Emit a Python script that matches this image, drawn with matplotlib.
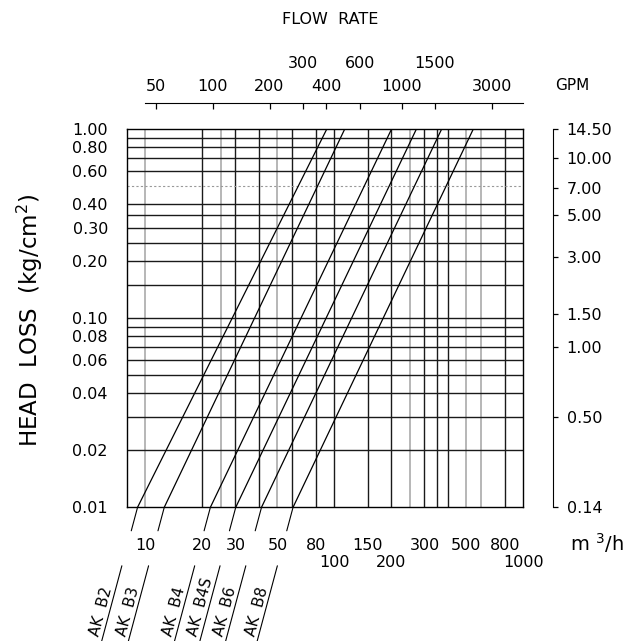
import numpy as np
import matplotlib.pyplot as plt
from matplotlib.ticker import FixedLocator, FixedFormatter, NullLocator, FuncFormatter
from matplotlib.transforms import offset_copy

# head loss lines of the filters, flow (m3/h) read at 0.01 and at 1.00 kg/cm2
models = ['AK  B2', 'AK  B3', 'AK  B4', 'AK  B4S', 'AK  B6', 'AK  B8']
head_ends = [0.01, 1.0]
flow_low = [9.1, 12.6, 22.1, 30.1, 41.2, 60.5]
flow_high = [91.3, 113.6, 201, 272, 370, 544]

# axis ticks
flow_ticks = [10, 20, 30, 50, 80, 150, 300, 500, 800]
flow_ticks_2nd = [100, 200, 1000]
gpm_ticks = [50, 100, 200, 400, 1000, 3000]
gpm_ticks_2nd = [300, 600, 1500]
head_ticks = [1.0, 0.8, 0.6, 0.4, 0.3, 0.2, 0.1, 0.08, 0.06, 0.04, 0.02, 0.01]
psi_pos = [1.0, 0.70, 0.485, 0.35, 0.21, 0.105, 0.07, 0.03, 0.01]
psi_labels = ['14.50', '10.00', '7.00', '5.00', '3.00', '1.50', '1.00', '0.50', '0.14']

# paper grid
grid_flow = [20, 30, 40, 60, 80, 100, 150, 200, 300, 350, 400, 800]
grid_flow_light = [10, 25, 50, 250, 500, 600]
grid_head = [0.9, 0.8, 0.7, 0.6, 0.4, 0.35, 0.3, 0.25, 0.2, 0.15, 0.1,
             0.09, 0.08, 0.07, 0.06, 0.05, 0.04, 0.03, 0.02]
grid_head_dotted = [0.5]

GPM_PER_M3H = 4.403
xlim = (8, 1000)
ylim = (0.01, 1.0)

fig = plt.figure(figsize=(6.34, 6.41), dpi=100)
ax = fig.add_axes([0.2003, 0.2086, 0.6251, 0.5902])
ax.set_xscale('log')
ax.set_yscale('log')
ax.set_xlim(*xlim)
ax.set_ylim(*ylim)

for q in grid_flow:
    ax.axvline(q, color='#1a1a1a', lw=1.0, zorder=1)
for q in grid_flow_light:
    ax.axvline(q, color='#aaaaaa', lw=1.2, zorder=1)
for h in grid_head:
    ax.axhline(h, color='#1a1a1a', lw=1.0, zorder=1)
for h in grid_head_dotted:
    ax.axhline(h, color='#999999', lw=0.8, ls=(0, (2, 2)), zorder=1)

for i, name in enumerate(models):
    ax.plot([flow_low[i], flow_high[i]], head_ends, color='black', lw=0.9, zorder=3)
    # leader line to the model label, broken by the tick labels
    ax.annotate('', xy=(flow_low[i], ylim[0]), xytext=(-6.3, -23.5),
                textcoords='offset pixels', annotation_clip=False,
                arrowprops=dict(arrowstyle='-', lw=0.8, color='black', shrinkA=0, shrinkB=0))
    ax.annotate('', xy=(flow_low[i], ylim[0]),
                xycoords=offset_copy(ax.transData, fig=fig, x=-15.7, y=-58.5, units='dots'),
                xytext=(-20.5, -76.5), textcoords='offset pixels', annotation_clip=False,
                arrowprops=dict(arrowstyle='-', lw=0.8, color='black', shrinkA=0, shrinkB=0))
    ax.annotate(name, xy=(flow_low[i], ylim[0]), xytext=(-38.5, -130),
                textcoords='offset pixels', rotation=75, rotation_mode='anchor',
                ha='left', va='baseline', fontsize=11, annotation_clip=False)

fmt = FuncFormatter(lambda v, p: f'{v:g}')
ax.xaxis.set_major_locator(FixedLocator(flow_ticks))
ax.xaxis.set_minor_locator(FixedLocator(flow_ticks_2nd))
ax.xaxis.set_major_formatter(fmt)
ax.xaxis.set_minor_formatter(fmt)
ax.tick_params(axis='x', which='major', length=0, pad=22, labelsize=11.5)
ax.tick_params(axis='x', which='minor', length=0, pad=34.3, labelsize=11.5)

ax.yaxis.set_major_locator(FixedLocator(head_ticks))
ax.yaxis.set_minor_locator(NullLocator())
ax.yaxis.set_major_formatter(FuncFormatter(lambda v, p: f'{v:.2f}'))
ax.tick_params(axis='y', length=0, pad=13.7, labelsize=11.5)
for s in ax.spines.values():
    s.set_linewidth(1.0)

# GPM scale on top
top = ax.twiny()
top.set_xscale('log')
top.set_xlim(xlim[0] * GPM_PER_M3H, xlim[1] * GPM_PER_M3H)
top.xaxis.set_major_locator(FixedLocator(gpm_ticks))
top.xaxis.set_minor_locator(FixedLocator(gpm_ticks_2nd))
top.xaxis.set_major_formatter(fmt)
top.xaxis.set_minor_formatter(fmt)
top.tick_params(axis='x', which='both', direction='in', length=4, width=0.9, labelsize=11.5)
top.tick_params(axis='x', which='major', pad=6.1)
top.tick_params(axis='x', which='minor', pad=22.9)
for s in ['left', 'right', 'bottom']:
    top.spines[s].set_visible(False)
top.spines['top'].set_position(('outward', 19))
top.spines['top'].set_bounds(10 * GPM_PER_M3H, xlim[1] * GPM_PER_M3H)

# psi scale on the right
rt = ax.twinx()
rt.set_yscale('log')
rt.set_ylim(*ylim)
rt.yaxis.set_major_locator(FixedLocator(psi_pos))
rt.yaxis.set_minor_locator(NullLocator())
rt.yaxis.set_major_formatter(FixedFormatter(psi_labels))
rt.tick_params(axis='y', direction='out', length=3.6, width=0.9, pad=6, labelsize=11.5)
for s in ['left', 'top', 'bottom']:
    rt.spines[s].set_visible(False)
rt.spines['right'].set_position(('outward', 21.6))

fig.text(0.5205, 0.969, 'FLOW  RATE', ha='center', va='center', fontsize=11.5)
fig.text(0.875, 0.867, 'GPM', ha='left', va='center', fontsize=11)
fig.text(0.899, 0.153, r'm $^3$/h', ha='left', va='center', fontsize=14)
fig.text(0.047, 0.50, r'HEAD  LOSS  (kg/cm$^2$)', rotation=90,
         ha='center', va='center', fontsize=16.5)

fig.savefig('out.png', dpi=100)
